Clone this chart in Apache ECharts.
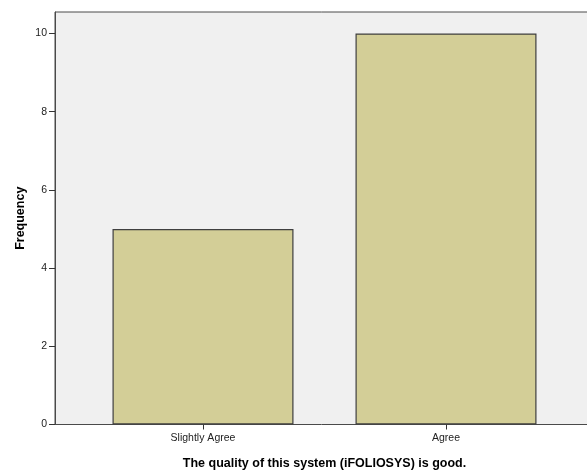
<!DOCTYPE html>
<html>
<head>
<meta charset="utf-8">
<script src="https://cdn.jsdelivr.net/npm/echarts@6/dist/echarts.min.js"></script>
<style>
html,body{margin:0;padding:0;background:#fff;}
#chart{width:587px;height:470px;}
</style>
</head>
<body>
<div id="chart"></div>
<script>
const categories = ['Slightly Agree', 'Agree'];
const frequencies = [5, 10];
const yTicks = [0, 2, 4, 6, 8, 10];
const xTitle = 'The quality of this system (iFOLIOSYS) is good.';
const yTitle = 'Frequency';

const yMax = 10.55;
const chart = echarts.init(document.getElementById('chart'), null, {renderer: 'canvas'});
chart.setOption({
  animation: false,
  backgroundColor: '#ffffff',
  grid: [
    {left: 55, right: -3, top: 12, bottom: 45.5, outerBoundsMode: 'none', containLabel: false,
     show: true, backgroundColor: '#f0f0f0', borderColor: '#4a4a4a', borderWidth: 1},
    {left: 81.5, right: 19.5, top: 12, bottom: 45.5, outerBoundsMode: 'none', containLabel: false}
  ],
  xAxis: [
    {gridIndex: 0, type: 'value', show: false, min: 0, max: 1},
    {gridIndex: 1, type: 'category', data: categories,
     axisLine: {show: false},
     axisTick: {show: true, alignWithLabel: true, length: 5, lineStyle: {color: '#333'}},
     axisLabel: {color: '#222', fontFamily: 'Liberation Sans, Arial', fontSize: 10.5, margin: 8},
     name: xTitle, nameLocation: 'middle', nameGap: 33,
     nameTextStyle: {color: '#000', fontFamily: 'Liberation Sans, Arial', fontWeight: 'bold', fontSize: 12.5}
    }
  ],
  yAxis: [
    {gridIndex: 0, type: 'value', min: 0, max: yMax,
     axisLine: {show: true, lineStyle: {color: '#4a4a4a'}},
     axisTick: {show: true, length: 6, customValues: yTicks, lineStyle: {color: '#333'}},
     splitLine: {show: false},
     axisLabel: {color: '#222', fontFamily: 'Liberation Sans, Arial', fontSize: 10.5, margin: 8, customValues: yTicks},
     name: yTitle, nameLocation: 'middle', nameGap: 28, nameRotate: 90, nameMoveOverlap: false,
     nameTextStyle: {color: '#000', fontFamily: 'Liberation Sans, Arial', fontWeight: 'bold', fontSize: 12.5}
    },
    {gridIndex: 1, type: 'value', min: 0, max: yMax, show: false}
  ],
  series: [{
    type: 'bar', xAxisIndex: 1, yAxisIndex: 1,
    data: frequencies,
    barWidth: 181,
    itemStyle: {color: '#d3ce97', borderColor: '#3f3f3f', borderWidth: 1.2}
  }]
});
</script>
</body>
</html>
